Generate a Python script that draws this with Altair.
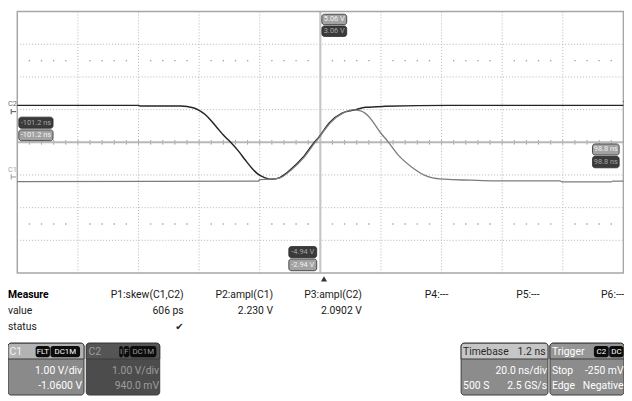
import altair as alt
import pandas as pd

FONT = "Roboto"

# ---------------- waveform samples (time: ns from screen centre, level: screen divisions) -------------
c1_time = [-100, -20.4, -20.0, -16.0, -13.1, -9.8, -5.4, -2.1, 0.0, 3.3, 7.6, 10.7, 13.3, 15.9, 19.8,
           22.5, 25.8, 30.2, 34.5, 36.7, 41.0, 49.7, 57.3, 79.1, 79.6, 96.0, 96.5, 100]
c1_level = [-1.20, -1.19, -1.14, -1.13, -1.08, -0.86, -0.46, -0.05, 0.20, 0.60, 0.90, 0.99, 0.96, 0.80, 0.30,
            0.00, -0.40, -0.76, -1.01, -1.08, -1.13, -1.16, -1.18, -1.18, -1.21, -1.21, -1.19, -1.19]
c2_time = [-100, -60.0, -59.5, -46.0, -42.0, -40.0, -38.0, -36.0, -34.0, -32.0, -29.6, -27.0, -24.7, -22.5,
           -20.9, -18.4, -16.0, -13.4, -10.1, -5.7, -2.4, -0.3, 3.0, 7.3, 11.7, 14.9, 21.4, 42.6, 100]
c2_level = [1.13, 1.13, 1.11, 1.11, 1.06, 0.98, 0.85, 0.66, 0.44, 0.22, 0.00, -0.27, -0.55, -0.80,
            -0.95, -1.08, -1.13, -1.08, -0.86, -0.46, -0.05, 0.18, 0.60, 0.90, 1.00, 1.07, 1.10, 1.13, 1.13]
c1_offset = -1.06   # divisions (ground marker)
c2_offset = 0.94
trigger_time = 1.2

# ---------------- texts ----------------
cursor_texts = ["5.06 V", "3.06 V", "-4.94 V", "-2.94 V", "-101.2 ns", "-101.2 ns", "98.8 ns", "98.8 ns"]
cursor_is_c1 = [True, False, False, True, False, True, True, False]
channel_names = ["C1", "C2"]

measure_title = "Measure"
row_names = ["value", "status"]
param_names = ["P1:skew(C1,C2)", "P2:ampl(C1)", "P3:ampl(C2)", "P4:---", "P5:---", "P6:---"]
param_values = ["606 ps", "2.230 V", "2.0902 V"]
param_status = ["\u2714"]

c1_settings = ["1.00 V/div", "-1.0600 V"]
c2_settings = ["1.00 V/div", "940.0 mV"]
c1_badges = ["FLT", "DC1M"]
c2_badges = ["I", "F", "DC1M"]
timebase_title = ["Timebase", "1.2 ns"]
timebase_info = ["20.0 ns/div", "500 S", "2.5 GS/s"]
trigger_title = "Trigger"
trigger_badges = ["C2", "DC"]
trigger_info = ["Stop", "-250 mV", "Edge", "Negative"]

# ---------------- layout ----------------
CH_W, CH_H = 624, 393
GRID_L, GRID_R, GRID_T, GRID_B = 9.4, 623.4, 1.1, 265.9
ppn = (GRID_R - GRID_L) / 200.0
ppd = (GRID_B - GRID_T) / 8.0
x_dom = [-100 - GRID_L / ppn, 100 + (CH_W - GRID_R) / ppn]
y_dom = [-4 - (CH_H - GRID_B) / ppd, 4 + GRID_T / ppd]
xs = alt.Scale(domain=x_dom, nice=False, zero=False)
ys = alt.Scale(domain=y_dom, nice=False, zero=False)
# panel below the screen: page pixel units
pxs = alt.Scale(domain=[8, 8 + CH_W], nice=False, zero=False)
pys = alt.Scale(domain=[8, 8 + CH_H], reverse=True, nice=False, zero=False)

GRID_C = "#b4b4b4"
GRAY_BOX, DARK_BOX = "#a2a2a2", "#3a3a3a"
TXT = 10.5


def X(f):
    return alt.X(f, type="quantitative", scale=xs, axis=None)


def Y(f):
    return alt.Y(f, type="quantitative", scale=ys, axis=None)


def PX(f):
    return alt.X(f, type="quantitative", scale=pxs, axis=None)


def PY(f):
    return alt.Y(f, type="quantitative", scale=pys, axis=None)


# ---------- scope screen ----------
vgrid = alt.Chart(pd.DataFrame({"x": [-80, -60, -40, -20, 20, 40, 60, 80]})).mark_rule(
    color=GRID_C, strokeWidth=1, strokeDash=[1, 2]).encode(x=X("x"), y=alt.value(GRID_T), y2=alt.value(GRID_B))
hgrid = alt.Chart(pd.DataFrame({"y": [-3, -2, -1, 1, 2, 3]})).mark_rule(
    color=GRID_C, strokeWidth=1, strokeDash=[1, 2]).encode(y=Y("y"), x=alt.value(GRID_L), x2=alt.value(GRID_R))

minor_t = [t for t in range(-96, 97, 4) if t % 20 != 0]
dots = pd.DataFrame({"x": minor_t * 2, "y": [2.5] * len(minor_t) + [-2.5] * len(minor_t)})
dot_layer = alt.Chart(dots).mark_square(size=2, color="#9a9a9a", opacity=0.9).encode(x=X("x"), y=Y("y"))

tick_t = [t for t in range(-96, 97, 4)]
ticks = alt.Chart(pd.DataFrame({"x": tick_t, "y": [-0.07] * len(tick_t), "y2": [0.07] * len(tick_t)})).mark_rule(
    color="#9c9c9c", strokeWidth=1).encode(x=X("x"), y=Y("y"), y2="y2")

center_v = alt.Chart(pd.DataFrame({"x": [0]})).mark_rule(color="#c6c6c6", strokeWidth=2.2).encode(
    x=X("x"), y=alt.value(GRID_T), y2=alt.value(GRID_B))
center_h = alt.Chart(pd.DataFrame({"y": [0]})).mark_rule(color="#b8b8b8", strokeWidth=2).encode(
    y=Y("y"), x=alt.value(GRID_L), x2=alt.value(GRID_R))

border = alt.Chart(pd.DataFrame({"x": [-100], "x2": [100], "y": [-4], "y2": [4]})).mark_rect(
    fillOpacity=0, stroke="#a6a6a6", strokeWidth=1.5).encode(x=X("x"), x2="x2", y=Y("y"), y2="y2")

c1_df = pd.DataFrame({"t": c1_time, "v": c1_level})
c2_df = pd.DataFrame({"t": c2_time, "v": c2_level})
c2_line = alt.Chart(c2_df).mark_line(color="#262626", strokeWidth=1.5, interpolate="monotone").encode(
    x=X("t"), y=Y("v"))
c1_line = alt.Chart(c1_df).mark_line(color="#7c7c7c", strokeWidth=1.3, interpolate="monotone").encode(
    x=X("t"), y=Y("v"))

# cursor readouts
cur_x0 = [0.5, 0.5, -10.4, -10.4, -99.5, -99.5, 89.8, 89.8]
cur_x1 = [8.7, 8.7, -1.2, -1.2, -88.2, -88.2, 98.6, 98.6]
cur_y0 = [3.60, 3.24, -3.53, -3.93, 0.43, 0.05, -0.39, -0.78]
cur_y1 = [3.92, 3.56, -3.19, -3.57, 0.77, 0.38, -0.05, -0.43]
cur = pd.DataFrame({
    "text": cursor_texts, "x0": cur_x0, "x1": cur_x1, "y0": cur_y0, "y1": cur_y1,
    "fill": [GRAY_BOX if c else DARK_BOX for c in cursor_is_c1],
    "tc": ["#f2f2f2" if c else "#a6a6a6" for c in cursor_is_c1],
})
cur["xm"] = (cur["x0"] + cur["x1"]) / 2
cur["ym"] = (cur["y0"] + cur["y1"]) / 2
cur_box = alt.Chart(cur).mark_rect(cornerRadius=2.5, stroke="#2a2a2a", strokeWidth=0.8).encode(
    x=X("x0"), x2="x1", y=Y("y0"), y2="y1", fill=alt.Fill("fill:N", scale=None))
cur_txt = alt.Chart(cur).mark_text(font=FONT, fontSize=7.5, baseline="middle", align="center").encode(
    x=X("xm"), y=Y("ym"), text="text:N", color=alt.Color("tc:N", scale=None))

# channel ground markers
ch = pd.DataFrame({"name": channel_names[::-1], "t": [-101.6, -101.6], "v": [c2_offset + 0.22, c1_offset + 0.22],
                   "c": ["#6a6a6a", "#a8a8a8"]})
ch_txt = alt.Chart(ch).mark_text(font=FONT, fontSize=7.5, baseline="middle", align="center").encode(
    x=X("t"), y=Y("v"), text="name:N", color=alt.Color("c:N", scale=None))
gm = pd.DataFrame({"x": [-102.0, -102.0], "x2": [-100.4, -100.4], "y": [c2_offset, c1_offset],
                   "c": ["#6a6a6a", "#a8a8a8"]})
gm_h = alt.Chart(gm).mark_rule(strokeWidth=1.2).encode(x=X("x"), x2="x2", y=Y("y"),
                                                         color=alt.Color("c:N", scale=None))
gm_v = alt.Chart(gm.assign(y0=gm["y"] - 0.08, y1=gm["y"] + 0.08)).mark_rule(strokeWidth=1.2).encode(
    x=X("x"), y=Y("y0"), y2="y1", color=alt.Color("c:N", scale=None))

trig = alt.Chart(pd.DataFrame({"t": [trigger_time], "v": [-4.18]})).mark_point(
    shape="triangle-up", filled=True, size=38, color="#333333", opacity=1).encode(x=X("t"), y=Y("v"))
trig_lvl = alt.Chart(pd.DataFrame({"t": [100.2], "v": [1.25]})).mark_point(
    shape="triangle-left", filled=True, size=10, color="#555555", opacity=1).encode(x=X("t"), y=Y("v"))

scope = alt.layer(vgrid, hgrid, dot_layer, ticks, center_v, center_h, border, c2_line, c1_line,
                  cur_box, cur_txt, ch_txt, gm_h, gm_v, trig, trig_lvl)

# ---------- measurement table ----------
ROW_Y = [296, 312.5, 328.5]
COL_R = [186, 276.5, 366.5, 454, 546.5, 632.5]
tbl_right = pd.DataFrame({
    "text": param_names + param_values,
    "x": COL_R + COL_R[:3],
    "y": [ROW_Y[0]] * 6 + [ROW_Y[1]] * 3,
})
t_right = alt.Chart(tbl_right).mark_text(font=FONT, fontSize=TXT, align="right", baseline="middle",
                                         color="#1a1a1a").encode(x=PX("x"), y=PY("y"), text="text:N")
t_rows = alt.Chart(pd.DataFrame({"text": row_names, "x": [8, 8], "y": ROW_Y[1:]})).mark_text(
    font=FONT, fontSize=TXT, align="left", baseline="middle", color="#1a1a1a").encode(
    x=PX("x"), y=PY("y"), text="text:N")
t_title = alt.Chart(pd.DataFrame({"text": [measure_title], "x": [8], "y": [ROW_Y[0]]})).mark_text(
    font=FONT, fontSize=TXT, fontWeight="bold", align="left", baseline="middle", color="#000000").encode(
    x=PX("x"), y=PY("y"), text="text:N")
t_check = alt.Chart(pd.DataFrame({"text": param_status, "x": [181.5], "y": [ROW_Y[2]]})).mark_text(
    font="DejaVu Sans", fontSize=10, align="center", baseline="middle", color="#222222").encode(
    x=PX("x"), y=PY("y"), text="text:N")

# ---------- descriptor boxes ----------
BOX_T, BOX_HB, BOX_B = 345, 361, 397.5
boxes = pd.DataFrame({
    "x0": [8, 87.3, 467, 557], "x1": [85, 161.7, 555, 632],
    "body": ["#8a8a8a", "#4c4c4c", "#8c8c8c", "#8c8c8c"],
    "head": ["#b3b3b3", "#555555", "#c6c6c6", "#969696"],
    "y0": [BOX_T] * 4, "y1": [BOX_B] * 4, "yh": [BOX_HB] * 4,
})
box_body = alt.Chart(boxes).mark_rect(cornerRadius=3, stroke="#3c3c3c", strokeWidth=1).encode(
    x=PX("x0"), x2="x1", y=PY("y0"), y2="y1", fill=alt.Fill("body:N", scale=None))
box_head = alt.Chart(boxes).mark_rect(cornerRadiusTopLeft=3, cornerRadiusTopRight=3, stroke="#3c3c3c",
                                      strokeWidth=1).encode(
    x=PX("x0"), x2="x1", y=PY("y0"), y2="yh", fill=alt.Fill("head:N", scale=None))

badges = pd.DataFrame({
    "text": c1_badges + c2_badges + trigger_badges,
    "x0": [36, 51, 120.7, 125, 131.7, 601.5, 617],
    "x1": [50.5, 81, 124.3, 131, 158.3, 616.5, 631.5],
    "tc": ["#ffffff", "#ffffff", "#9a9a9a", "#9a9a9a", "#9a9a9a", "#ffffff", "#ffffff"],
})
badges["y0"] = 347.8
badges["y1"] = 359.2
badges["xm"] = (badges["x0"] + badges["x1"]) / 2
badges["ym"] = 353.6
badge_box = alt.Chart(badges).mark_rect(cornerRadius=2.5, color="#0c0c0c").encode(
    x=PX("x0"), x2="x1", y=PY("y0"), y2="y1")
badge_txt = alt.Chart(badges).mark_text(font=FONT, fontSize=8, align="center", baseline="middle").encode(
    x=PX("xm"), y=PY("ym"), text="text:N", color=alt.Color("tc:N", scale=None))

HEAD_Y, L1_Y, L2_Y = 354, 373.5, 388.5
box_left = pd.DataFrame({
    "text": [channel_names[0], channel_names[1], timebase_title[0], trigger_title,
             timebase_info[1], trigger_info[0], trigger_info[2]],
    "x": [9.5, 89.5, 469, 559, 469, 559, 559],
    "y": [HEAD_Y, HEAD_Y, HEAD_Y, HEAD_Y, L2_Y, L1_Y, L2_Y],
    "tc": ["#f4f4f4", "#9c9c9c", "#2a2a2a", "#ffffff", "#ffffff", "#ffffff", "#ffffff"],
})
box_right = pd.DataFrame({
    "text": c1_settings + c2_settings + [timebase_title[1], timebase_info[0], timebase_info[2],
                                          trigger_info[1], trigger_info[3]],
    "x": [83, 83, 161, 161, 552.5, 554, 554, 631.5, 631.5],
    "y": [L1_Y, L2_Y, L1_Y, L2_Y, HEAD_Y, L1_Y, L2_Y, L1_Y, L2_Y],
    "tc": ["#ffffff", "#ffffff", "#9c9c9c", "#9c9c9c", "#2a2a2a", "#ffffff", "#ffffff", "#ffffff", "#ffffff"],
})
bl_txt = alt.Chart(box_left).mark_text(font=FONT, fontSize=TXT, align="left", baseline="middle").encode(
    x=PX("x"), y=PY("y"), text="text:N", color=alt.Color("tc:N", scale=None))
br_txt = alt.Chart(box_right).mark_text(font=FONT, fontSize=TXT, align="right", baseline="middle").encode(
    x=PX("x"), y=PY("y"), text="text:N", color=alt.Color("tc:N", scale=None))

panel = alt.layer(t_right, t_rows, t_title, t_check, box_body, box_head, badge_box, badge_txt, bl_txt, br_txt)

chart = alt.layer(scope, panel).resolve_scale(x="independent", y="independent").properties(
    width=CH_W, height=CH_H, padding=0, autosize=alt.AutoSizeParams(type="none"),
    background="#ffffff",
).configure_view(stroke=None)

chart.save("out.html", embed_options={"renderer": "svg", "actions": False})
